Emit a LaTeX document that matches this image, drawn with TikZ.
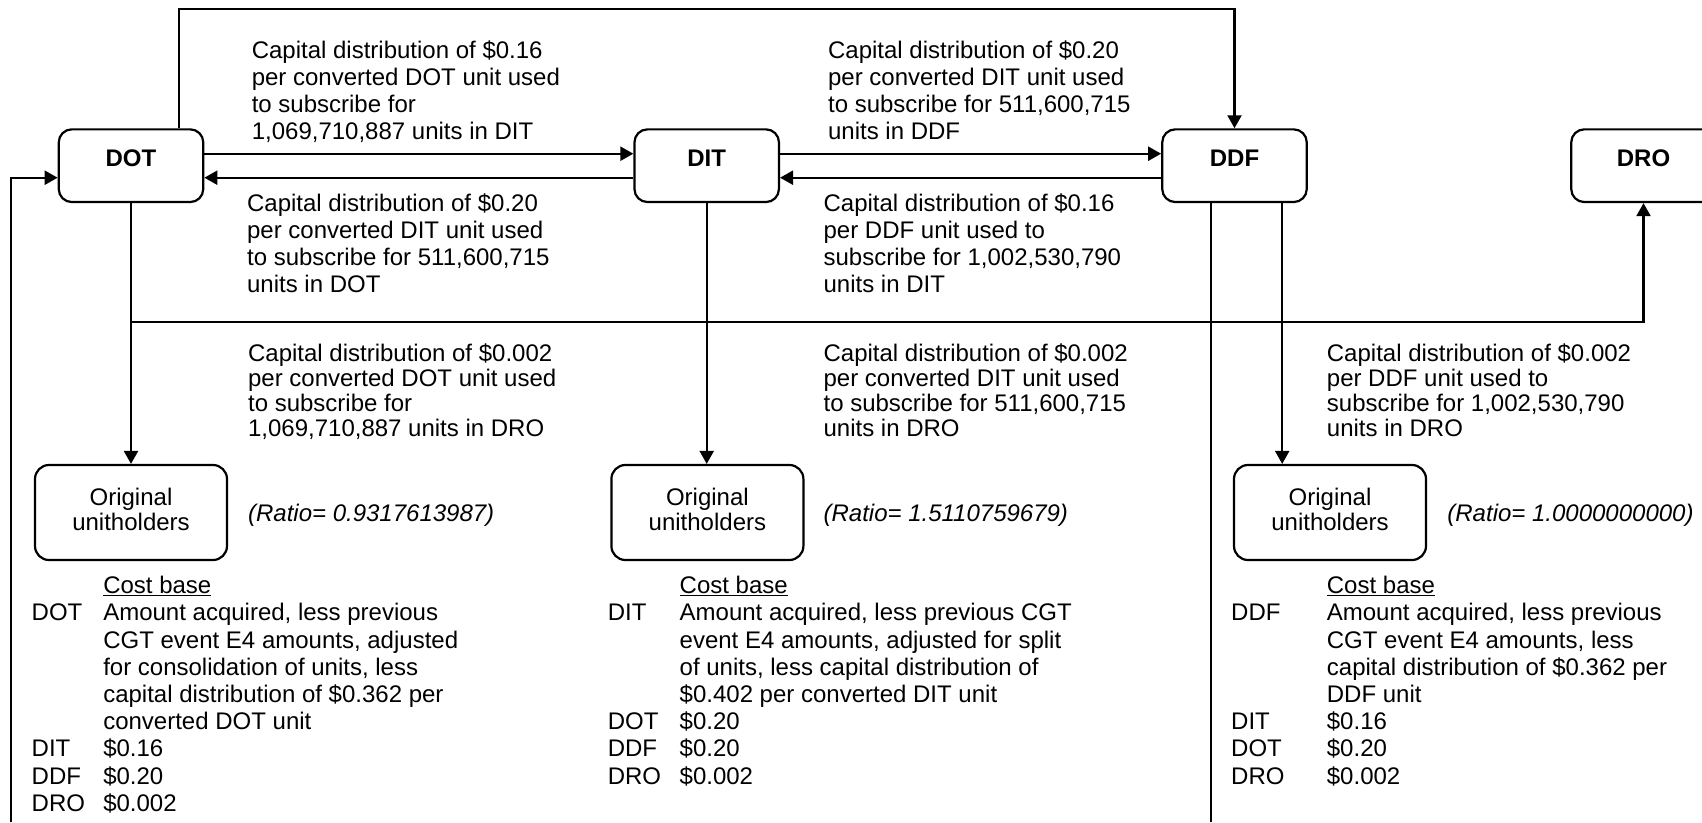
\documentclass[tikz,border=0pt]{standalone}
\usepackage{fontspec}
\setmainfont{Liberation Sans}
\usetikzlibrary{arrows.meta}
\newcommand{\txtlines}[1]{\begin{tabular}[t]{@{}l@{}}#1\end{tabular}}
\newcommand{\ctrlines}[1]{\begin{tabular}{@{}c@{}}#1\end{tabular}}

\begin{document}
\begin{tikzpicture}[x=1pt, y=-1pt, line width=2.2pt,
    fund/.style={draw, rounded corners=13pt, minimum width=144.5pt, inner xsep=0pt, inner ysep=0pt,
        text height=37.4pt, text depth=35.3pt, font=\fontsize{24}{27.2}\selectfont\bfseries},
    holders/.style={draw, rounded corners=14pt, minimum width=192pt, minimum height=95pt, inner sep=0pt,
        font=\fontsize{24}{25}\selectfont},
    note/.style={inner sep=0pt, anchor=base west, font=\fontsize{24}{27.2}\selectfont},
    lownote/.style={note, font=\fontsize{24}{25}\selectfont},
    ratio/.style={note, font=\fontsize{24}{27.2}\selectfont\itshape},
    conn/.style={-{Triangle[length=13pt,width=14pt]}}]

    \useasboundingbox (0,0) rectangle (1702,822);
    \clip (0,0) rectangle (1702,822);

    % funds
    \node[fund] (DOT) at (131,165.7) {DOT};
    \node[fund] (DIT) at (706.7,165.7) {DIT};
    \node[fund] (DDF) at (1234.5,165.7) {DDF};
    \node[fund] (DRO) at (1643.5,165.7) {DRO};

    % unitholders
    \node[holders] (own1) at (131,512.5) {\ctrlines{Original\\unitholders}};
    \node[holders] (own2) at (707.4,512.5) {\ctrlines{Original\\unitholders}};
    \node[holders] (own3) at (1330,512.5) {\ctrlines{Original\\unitholders}};

    \coordinate (fbot) at (10.7,822);
    \coordinate (split) at (131,321.7);
    \coordinate (dbot) at (1211,822);

    \draw[conn] ([xshift=47.7pt]DOT.north) -- ++(0,-119.3) -| (DDF.north);
    \draw[conn] ([yshift=12pt]DOT.east) -- ([yshift=12pt]DIT.west);
    \draw[conn] ([yshift=-12pt]DIT.west) -- ([yshift=-12pt]DOT.east);
    \draw[conn] ([yshift=12pt]DIT.east) -- ([yshift=12pt]DDF.west);
    \draw[conn] ([yshift=-12pt]DDF.west) -- ([yshift=-12pt]DIT.east);
    \draw[conn] (fbot) |- ([yshift=-12pt]DOT.west);
    \draw[conn] (DOT.south) -- (own1.north);
    \draw[conn] (split) -| (DRO.south);
    \draw[conn] (DIT.south) -- (DIT.south |- own2.north);
    \draw (DDF.south -| dbot) -- (dbot);
    \draw[conn] ([xshift=47.7pt]DDF.south) -- ([xshift=47.7pt]DDF.south |- own3.north);

    % distributions
    \node[note] (capA) at (250.7,58) {\txtlines{Capital distribution of \$0.16\\per converted DOT unit used\\to subscribe for\\1,069,710,887 units in DIT}};
    \node[note] (capB) at (246,211) {\txtlines{Capital distribution of \$0.20\\per converted DIT unit used\\to subscribe for 511,600,715\\units in DOT}};
    \node[note] (capC) at (827,58) {\txtlines{Capital distribution of \$0.20\\per converted DIT unit used\\to subscribe for 511,600,715\\units in DDF}};
    \node[note] (capD) at (822.5,211) {\txtlines{Capital distribution of \$0.16\\per DDF unit used to\\subscribe for 1,002,530,790\\units in DIT}};
    \node[lownote] (capE) at (247,361.7) {\txtlines{Capital distribution of \$0.002\\per converted DOT unit used\\to subscribe for\\1,069,710,887 units in DRO}};
    \node[lownote] (capF) at (822.5,361.7) {\txtlines{Capital distribution of \$0.002\\per converted DIT unit used\\to subscribe for 511,600,715\\units in DRO}};
    \node[lownote] (capG) at (1325.8,361.7) {\txtlines{Capital distribution of \$0.002\\per DDF unit used to\\subscribe for 1,002,530,790\\units in DRO}};

    \node[ratio] (ratA) at (247,521.7) {(Ratio= 0.9317613987)};
    \node[ratio] (ratB) at (822.5,521.7) {(Ratio= 1.5110759679)};
    \node[ratio] (ratC) at (1446.3,521.7) {(Ratio= 1.0000000000)};

    % cost base
    \node[note] (baseA) at (30.6,593.6) {\begin{tabular}[t]{@{}p{71.6pt}@{}l@{}}
        & \underline{Cost base}\\
        DOT & Amount acquired, less previous\\
        & CGT event E4 amounts, adjusted\\
        & for consolidation of units, less\\
        & capital distribution of \$0.362 per\\
        & converted DOT unit\\
        DIT & \$0.16\\
        DDF & \$0.20\\
        DRO & \$0.002
    \end{tabular}};
    \node[note] (baseB) at (606.7,593.6) {\begin{tabular}[t]{@{}p{71.9pt}@{}l@{}}
        & \underline{Cost base}\\
        DIT & Amount acquired, less previous CGT\\
        & event E4 amounts, adjusted for split\\
        & of units, less capital distribution of\\
        & \$0.402 per converted DIT unit\\
        DOT & \$0.20\\
        DDF & \$0.20\\
        DRO & \$0.002
    \end{tabular}};
    \node[note] (baseC) at (1230.1,593.6) {\begin{tabular}[t]{@{}p{95.7pt}@{}l@{}}
        & \underline{Cost base}\\
        DDF & Amount acquired, less previous\\
        & CGT event E4 amounts, less\\
        & capital distribution of \$0.362 per\\
        & DDF unit\\
        DIT & \$0.16\\
        DOT & \$0.20\\
        DRO & \$0.002
    \end{tabular}};
\end{tikzpicture}
\end{document}
